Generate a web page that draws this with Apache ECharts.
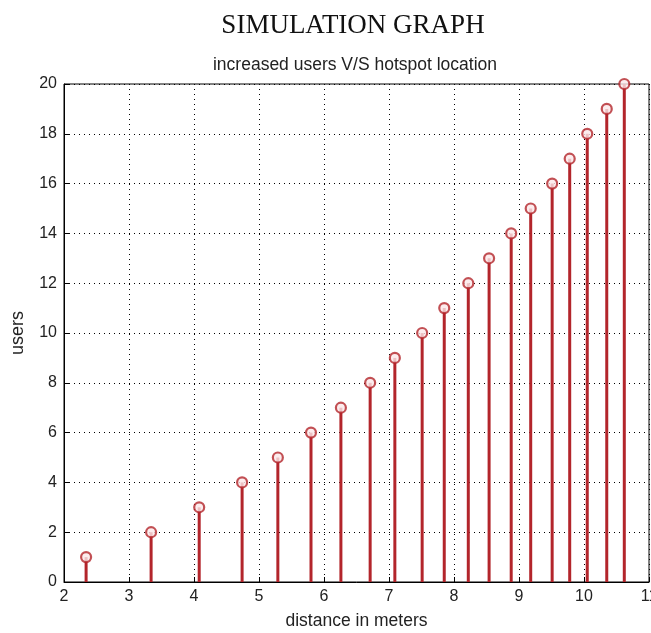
<!DOCTYPE html>
<html>
<head>
<meta charset="utf-8">
<script src="https://cdn.jsdelivr.net/npm/echarts@6/dist/echarts.min.js"></script>
<style>
  html, body { margin: 0; padding: 0; background: #fff; }
  #chart { width: 651px; height: 633px; }
</style>
</head>
<body>
<div id="chart"></div>
<script>
// stem plot: users vs distance
const distances = [2.34, 3.34, 4.08, 4.74, 5.29, 5.80, 6.26, 6.71, 7.09, 7.51,
                   7.85, 8.22, 8.54, 8.88, 9.18, 9.51, 9.78, 10.05, 10.35, 10.62];
const users = [1, 2, 3, 4, 5, 6, 7, 8, 9, 10, 11, 12, 13, 14, 15, 16, 17, 18, 19, 20];
const xRange = [2, 11];
const yRange = [0, 20];

const stemColor = '#b3252b';
const labelFont = 'Liberation Sans, sans-serif';
const points = distances.map((d, i) => [d, users[i]]);

const chart = echarts.init(document.getElementById('chart'));

chart.setOption({
  backgroundColor: '#fff',
  animation: false,
  title: [
    {
      text: 'SIMULATION GRAPH',
      left: 348, top: 7, textAlign: 'center',
      textStyle: { fontFamily: 'Liberation Serif', fontSize: 27, fontWeight: 'normal', color: '#111' }
    },
    {
      text: 'increased users V/S hotspot location',
      left: 350, top: 51, textAlign: 'center',
      textStyle: { fontFamily: labelFont, fontSize: 17.5, fontWeight: 'normal', color: '#222' }
    }
  ],
  grid: {
    left: 64, top: 84, right: 2, bottom: 51,
    outerBoundsMode: 'none',
    show: true, borderColor: '#000', borderWidth: 1
  },
  xAxis: {
    type: 'value', min: xRange[0], max: xRange[1], interval: 1,
    name: 'distance in meters', nameLocation: 'middle', nameGap: 30,
    nameTextStyle: { fontFamily: labelFont, fontSize: 17.5, color: '#222' },
    axisLine: { show: true, lineStyle: { color: '#000', width: 1 } },
    axisTick: { show: true, inside: true, length: 5, lineStyle: { color: '#000' } },
    axisLabel: { fontFamily: labelFont, fontSize: 16, color: '#222', margin: 7 },
    splitLine: { show: true, lineStyle: { color: '#000', type: [1, 4], width: 1 } }
  },
  yAxis: {
    type: 'value', min: yRange[0], max: yRange[1], interval: 2,
    name: 'users', nameLocation: 'middle', nameGap: 37,
    nameTextStyle: { fontFamily: labelFont, fontSize: 18, color: '#222' },
    axisLine: { show: true, lineStyle: { color: '#000', width: 1 } },
    axisTick: { show: true, inside: true, length: 5, lineStyle: { color: '#000' } },
    axisLabel: { fontFamily: labelFont, fontSize: 16, color: '#222', margin: 7 },
    splitLine: { show: true, lineStyle: { color: '#000', type: [1, 4], width: 1 } }
  },
  series: [
    {
      type: 'custom',
      data: points,
      renderItem(params, api) {
        const top = api.coord([api.value(0), api.value(1)]);
        const base = api.coord([api.value(0), 0]);
        return {
          type: 'line',
          shape: { x1: top[0], y1: top[1], x2: base[0], y2: base[1] },
          style: { stroke: stemColor, lineWidth: 3 }
        };
      },
      z: 3
    },
    {
      type: 'scatter',
      data: points,
      symbol: 'circle',
      symbolSize: 10,
      itemStyle: { color: '#fbe9ea', borderColor: stemColor, borderWidth: 2.2 },
      z: 4
    }
  ]
});
</script>
</body>
</html>
